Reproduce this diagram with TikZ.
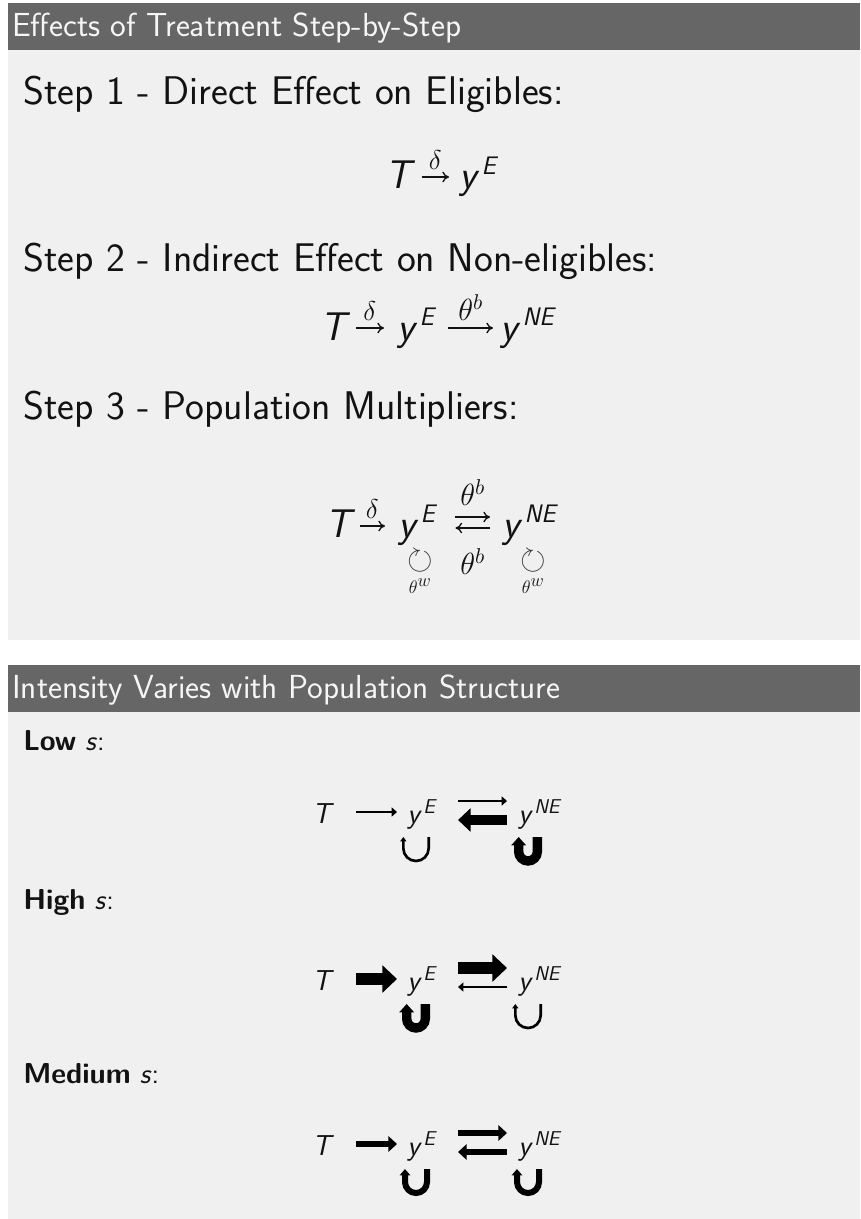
\documentclass[tikz,border=0pt]{standalone}
\usepackage{fix-cm}
\usepackage{amsmath,amssymb,graphicx}
\usepackage{fontspec}
\usetikzlibrary{calc,arrows.meta}
\definecolor{BlockHead}{RGB}{102,102,102}
\definecolor{BlockBody}{RGB}{240,240,240}
\definecolor{HeadText}{RGB}{246,246,246}
\definecolor{BodyText}{RGB}{18,18,18}
\newcommand{\sv}[1]{\textsf{\itshape #1}}
% y with a raised sans superscript: kern, raise, size, text
\newcommand{\yup}[4]{\sv{y}\kern#1pt\raisebox{#2pt}{\fontsize{#3}{#3}\selectfont\sv{#4}}}

\begin{document}
\begin{tikzpicture}[x=0.75pt,y=-0.75pt,
    head/.style={font=\fontsize{25}{30}\selectfont\sffamily,text=HeadText,anchor=base west,inner sep=0pt},
    steptext/.style={font=\fontsize{30}{36}\selectfont\sffamily,text=BodyText,anchor=base west,inner sep=0pt},
    case/.style={font=\fontsize{21.6}{26}\selectfont\sffamily,text=BodyText,anchor=base west,inner sep=0pt},
    bigmath/.style={font=\fontsize{30}{36}\selectfont,text=BodyText,anchor=base west,inner sep=0pt},
    smallmath/.style={font=\fontsize{21.6}{26}\selectfont,text=BodyText,anchor=base west,inner sep=0pt},
    lab/.style={font=\fontsize{17}{19}\selectfont,text=BodyText,inner sep=0pt},
    cw/.style={font=\fontsize{19}{20}\selectfont,text=BodyText!85,inner sep=0pt},
    mathto/.style={BodyText,line width=1pt,-{Computer Modern Rightarrow[length=5pt,width=8pt]}},
    flow/.style={black,line width=#1pt,-{Triangle[length=2pt 1,width=3pt 1.9]}},
    turn/.style={black,line width=#1pt,-{Triangle[length=2pt 0.6,width=2pt 1.25]}},
  ]
  \useasboundingbox (0,0) rectangle (860,1219);
  \fill[white] (0,0) rectangle (860,1219);

  % the two blocks
  \fill[BlockHead] (8,3) rectangle (860,50);
  \fill[BlockBody] (8,50) rectangle (860,640);
  \fill[BlockHead] (8,665) rectangle (860,712);
  \fill[BlockBody] (8,712) rectangle (860,1219);

  \node[head] (hdrA) at (12,37) {Effects of Treatment Step-by-Step};
  \node[head] (hdrB) at (12,698) {Intensity Varies with Population Structure};

  % step by step
  \node[steptext] (stepA) at (23,105) {Step 1 - Direct Effect on Eligibles:};
  \node[steptext] (stepB) at (23,272) {Step 2 - Indirect Effect on Non-eligibles:};
  \node[steptext] (stepC) at (23,419) {Step 3 - Population Multipliers:};

  \node[bigmath] (T1) at (385,189) {\sv{T}};
  \node[bigmath] (yE1) at (459,189) {\yup{1.5}{11}{19}{E}};
  \draw[mathto] ($(T1.base east)+(6,-12)$) -- node[lab,above=5pt]{\scalebox{1.2}{$\delta$}} ($(yE1.base west)+(-10,-12)$);

  \node[bigmath] (T2) at (320,340) {\sv{T}};
  \node[bigmath] (yE2) at (397,340) {\yup{1.5}{11}{19}{E}};
  \node[bigmath] (yNE2) at (500,340) {\yup{1.5}{11}{19}{NE}};
  \draw[mathto] ($(T2.base east)+(5,-12)$) -- node[lab,above=5pt]{\scalebox{1.2}{$\delta$}} ($(yE2.base west)+(-13,-12)$);
  \draw[mathto] ($(yE2.base east)+(12,-12)$) -- node[lab,above=5pt]{\scalebox{1.35}{$\theta^b$}} ($(yNE2.base west)+(-7,-12)$);

  \node[bigmath] (T3) at (325,537) {\sv{T}};
  \node[bigmath] (yE3) at (398,537) {\yup{1.5}{11}{19}{E}};
  \node[bigmath] (yNE3) at (502,537) {\yup{1.5}{11}{19}{NE}};
  \draw[mathto] ($(T3.base east)+(4,-11)$) -- node[lab,above=5pt]{\scalebox{1.2}{$\delta$}} ($(yE3.base west)+(-13,-11)$);
  \draw[mathto] ($(yE3.base east)+(18,-20)$) -- node[lab,above=8pt]{\scalebox{1.35}{$\theta^b$}} ($(yNE3.base west)+(-12,-20)$);
  \draw[mathto] ($(yNE3.base west)+(-12,-9)$) -- node[lab,below=15pt]{\scalebox{1.35}{$\theta^b$}} ($(yE3.base east)+(18,-9)$);
  \node[cw] (cwE) at (420,561) {\scalebox{1.3}{$\circlearrowright$}};
  \node[lab] (wE) at (420,586) {\scalebox{0.8}{$\theta^{\textstyle w}$}};
  \node[cw] (cwNE) at (533,561) {\scalebox{1.3}{$\circlearrowright$}};
  \node[lab] (wNE) at (533,586) {\scalebox{0.8}{$\theta^{\textstyle w}$}};

  % intensity by population structure
  \node[case] (low) at (23,750) {\textbf{Low} \textit{s}:};
  \node[case] (high) at (23,909) {\textbf{High} \textit{s}:};
  \node[case] (mid) at (23,1083) {\textbf{Medium} \textit{s}:};

  \foreach \nm/\ry/\wa/\wu/\wl/\wp/\wq in {low/823/2/2/7.5/2/7,high/990/9/9/2/7/2,mid/1155/4.5/4.5/4.5/4.5/4.5} {
    \node[smallmath] (T\nm) at (312,\ry) {\sv{T}};
    \node[smallmath] (yE\nm) at (407,\ry) {\yup{1}{7.5}{15}{E}};
    \node[smallmath] (yNE\nm) at (518,\ry) {\yup{1}{7.5}{15}{NE}};
    \draw[flow=\wa] ($(T\nm.base east)+(22,-11)$) -- ($(yE\nm.base west)+(-10,-11)$);
    \draw[flow=\wu] ($(yE\nm.base east)+(21,-22)$) -- ($(yNE\nm.base west)+(-11,-22)$);
    \draw[flow=\wl] ($(yNE\nm.base west)+(-11,-3)$) -- ($(yE\nm.base east)+(21,-3)$);
    \pgfmathsetmacro\rp{14-\wp*0.667}
    \pgfmathsetmacro\rq{14-\wq*0.667}
    \draw[turn=\wp] (416+\rp,\ry+14) -- (416+\rp,\ry+38-\rp) arc[start angle=0,end angle=180,radius=\rp] -- (416-\rp,\ry+14);
    \draw[turn=\wq] (528+\rq,\ry+14) -- (528+\rq,\ry+38-\rq) arc[start angle=0,end angle=180,radius=\rq] -- (528-\rq,\ry+14);
  }
\end{tikzpicture}
\end{document}
